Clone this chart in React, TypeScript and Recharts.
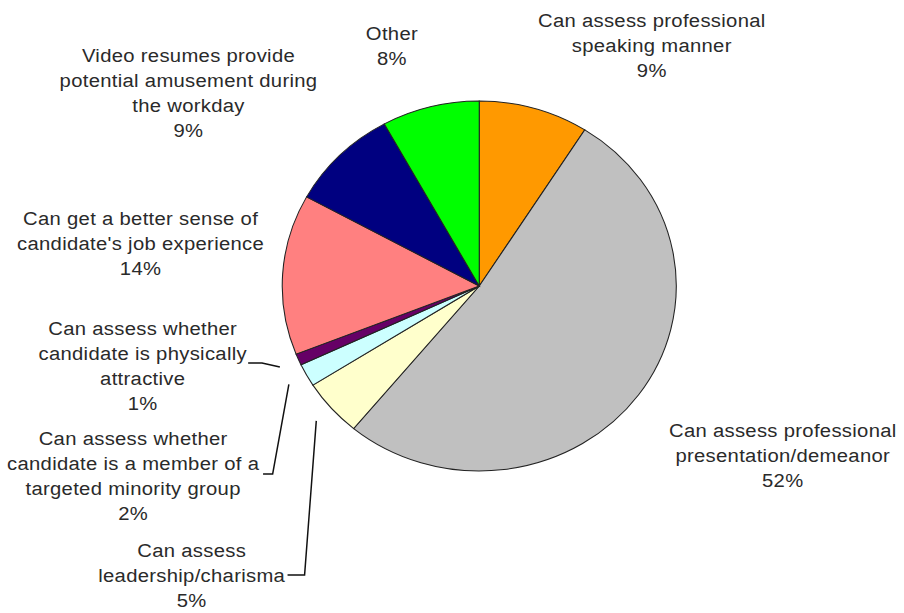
import React from 'react';
import { PieChart, Pie, Cell } from 'recharts';

const categories = [
  'Can assess professional speaking manner',
  'Can assess professional presentation/demeanor',
  'Can assess leadership/charisma',
  'Can assess whether candidate is a member of a targeted minority group',
  'Can assess whether candidate is physically attractive',
  "Can get a better sense of candidate's job experience",
  'Video resumes provide potential amusement during the workday',
  'Other',
];

const values = [9, 52, 5, 2, 1, 14, 9, 8];

const labelLines: string[][] = [
  ['Can assess professional', 'speaking manner'],
  ['Can assess professional', 'presentation/demeanor'],
  ['Can assess', 'leadership/charisma'],
  ['Can assess whether', 'candidate is a member of a', 'targeted minority group'],
  ['Can assess whether', 'candidate is physically', 'attractive'],
  ['Can get a better sense of', "candidate's job experience"],
  ['Video resumes provide', 'potential amusement during', 'the workday'],
  ['Other'],
];

const colors = ['#FF9900', '#C0C0C0', '#FFFFCC', '#CCFFFF', '#660066', '#FF8080', '#000080', '#00FF00'];

// label layout relative to pie centre (chart space)
type Layout = { dx: number; dy: number; leader?: { ex: number; ey: number; tx: number } };
const labelLayout: Layout[] = [
  { dx: 162, dy: -266 },
  { dx: 285, dy: 144 },
  { dx: -270, dy: 264, leader: { ex: -164, ey: 289, tx: -180 } },
  { dx: -325, dy: 152, leader: { ex: -194, ey: 188, tx: -203 } },
  { dx: -316, dy: 42, leader: { ex: -204, ey: 77, tx: -217 } },
  { dx: -318, dy: -68 },
  { dx: -273, dy: -231 },
  { dx: -82, dy: -253 },
];

const data = categories.map((name, i) => ({ name, value: values[i] }));

const RAD = Math.PI / 180;
const LINE_H = 25;

const renderLabel = (props: any) => {
  const { cx, cy, midAngle, outerRadius, index, value } = props;
  const lay = labelLayout[index];
  const lines = [...labelLines[index], `${value}%`];
  const x = cx + lay.dx;
  const y0 = cy + lay.dy;
  let leader = null;
  if (lay.leader) {
    const r = outerRadius + 19;
    const sx = cx + r * Math.cos(-midAngle * RAD);
    const sy = cy + r * Math.sin(-midAngle * RAD);
    const ex = cx + lay.leader.ex;
    const ey = cy + lay.leader.ey;
    const tx = cx + lay.leader.tx;
    leader = (
      <polyline
        points={`${sx},${sy} ${ex},${ey} ${tx},${ey}`}
        fill="none"
        stroke="#111"
        strokeWidth={1.4}
      />
    );
  }
  return (
    <g key={`lbl-${index}`}>
      {leader}
      {lines.map((t, i) => (
        <text
          key={i}
          x={x}
          y={y0 + i * LINE_H}
          textAnchor="middle"
          dominantBaseline="central"
          fill="#2a2a2a"
          fontSize={19}
          fontFamily="'Liberation Sans', Arial, sans-serif"
          letterSpacing={0.3}
        >
          {t}
        </text>
      ))}
    </g>
  );
};

export default function App() {
  return (
    <div
      style={{
        position: 'absolute',
        left: 0,
        top: 0,
        width: 904,
        height: 613,
        overflow: 'hidden',
        background: '#fff',
      }}
    >
      <div style={{ transform: 'scaleX(1.065)', transformOrigin: '0 0', width: 849, height: 613 }}>
        <PieChart width={849} height={613} margin={{ top: 0, right: 0, bottom: 0, left: 0 }}>
          <Pie
            data={data}
            dataKey="value"
            nameKey="name"
            cx={450}
            cy={286}
            outerRadius={185}
            startAngle={90}
            endAngle={-270}
            stroke="#222"
            strokeWidth={1}
            label={renderLabel}
            labelLine={false}
            isAnimationActive={false}
          >
            {data.map((d, i) => (
              <Cell key={d.name} fill={colors[i]} />
            ))}
          </Pie>
        </PieChart>
      </div>
    </div>
  );
}
